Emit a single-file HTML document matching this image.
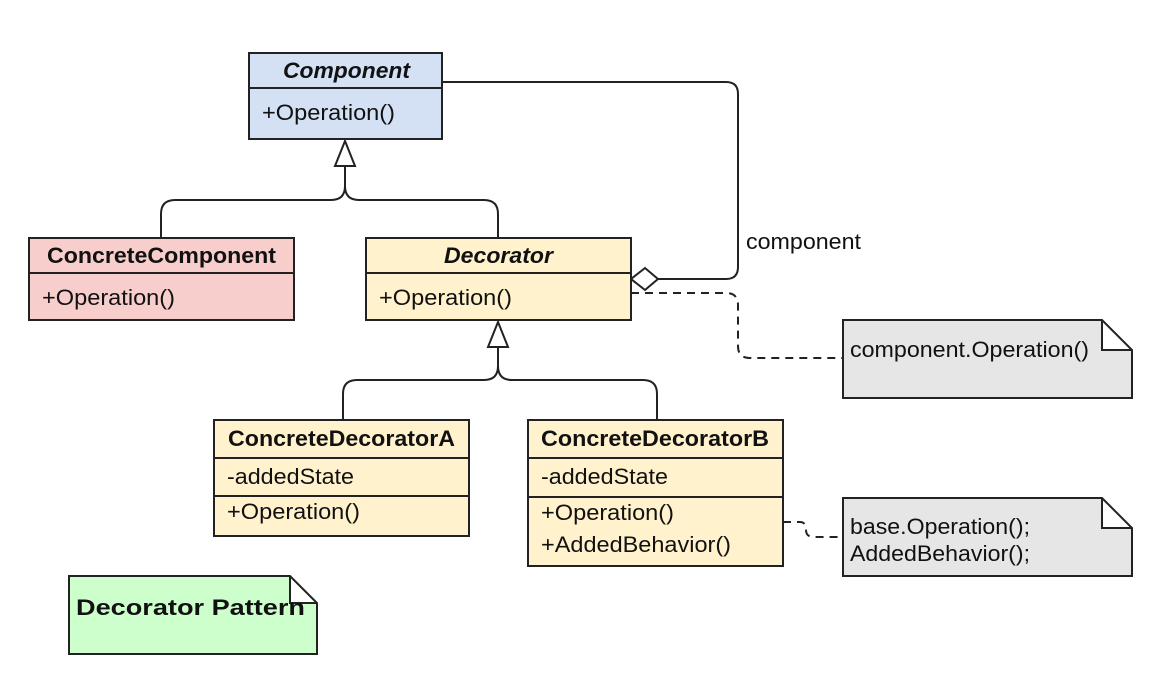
<!DOCTYPE html>
<html><head><style>
body{margin:0;background:#fff;}
svg text{font-family:"Liberation Sans",Arial,sans-serif;font-size:22px;fill:#111;}
</style></head><body>
<svg width="1171" height="686" viewBox="0 0 1171 686" xmlns="http://www.w3.org/2000/svg">
<g stroke="#222" stroke-width="2" fill="none">
<path d="M442 82 H726 Q738 82 738 94 V267 Q738 279 726 279 H658"/>
<path d="M631 279 L645 268 L658 279 L645 290 Z" fill="#fff"/>
<path d="M345 166 V186 Q345 200 331 200 H175 Q161 200 161 214 V238"/>
<path d="M345 186 Q345 200 359 200 H484 Q498 200 498 214 V238"/>
<path d="M345 141 L335 166 H355 Z" fill="#fff"/>
<path d="M498 347 V366 Q498 380 484 380 H357 Q343 380 343 394 V420"/>
<path d="M498 366 Q498 380 512 380 H643 Q657 380 657 394 V420"/>
<path d="M498 322 L488 347 H508 Z" fill="#fff"/>
<path d="M631 293 H726 Q738 293 738 305 V346 Q738 358 750 358 H843" stroke-dasharray="8,6"/>
<path d="M783 522 H800 Q806 522 806 530 Q806 537 814 537 H843" stroke-dasharray="8,6"/>
</g>
<g stroke="#222" stroke-width="2">
<rect x="249" y="53" width="193" height="86" fill="#d4e1f5"/>
<line x1="249" y1="88" x2="442" y2="88"/>
<rect x="29" y="238" width="265" height="82" fill="#f8cecc"/>
<line x1="29" y1="273" x2="294" y2="273"/>
<rect x="366" y="238" width="265" height="82" fill="#fff2cc"/>
<line x1="366" y1="273" x2="631" y2="273"/>
<rect x="214" y="420" width="255" height="116" fill="#fff2cc"/>
<line x1="214" y1="458" x2="469" y2="458"/>
<line x1="214" y1="496" x2="469" y2="496"/>
<rect x="528" y="420" width="255" height="146" fill="#fff2cc"/>
<line x1="528" y1="458" x2="783" y2="458"/>
<line x1="528" y1="497" x2="783" y2="497"/>
<path d="M843 320 H1102 L1132 350 V398 H843 Z M1102 320 V350 H1132" fill="#e6e6e6"/>
<path d="M843 498 H1102 L1132 528 V576 H843 Z M1102 498 V528 H1132" fill="#e6e6e6"/>
<path d="M69 576 H290 L317 603 V654 H69 Z M290 576 V603 H317" fill="#ccffcc"/>
</g>
<text x="283" y="78" textLength="127" lengthAdjust="spacingAndGlyphs" font-style="italic" font-weight="bold">Component</text>
<text x="262" y="120" textLength="133" lengthAdjust="spacingAndGlyphs">+Operation()</text>
<text x="47" y="263" textLength="229" lengthAdjust="spacingAndGlyphs" font-weight="bold">ConcreteComponent</text>
<text x="42" y="305" textLength="133" lengthAdjust="spacingAndGlyphs">+Operation()</text>
<text x="444" y="263" textLength="109" lengthAdjust="spacingAndGlyphs" font-style="italic" font-weight="bold">Decorator</text>
<text x="379" y="305" textLength="133" lengthAdjust="spacingAndGlyphs">+Operation()</text>
<text x="228" y="446" textLength="227" lengthAdjust="spacingAndGlyphs" font-weight="bold">ConcreteDecoratorA</text>
<text x="227" y="484" textLength="127" lengthAdjust="spacingAndGlyphs">-addedState</text>
<text x="227" y="519" textLength="133" lengthAdjust="spacingAndGlyphs">+Operation()</text>
<text x="541" y="446" textLength="228" lengthAdjust="spacingAndGlyphs" font-weight="bold">ConcreteDecoratorB</text>
<text x="541" y="484" textLength="127" lengthAdjust="spacingAndGlyphs">-addedState</text>
<text x="541" y="520" textLength="133" lengthAdjust="spacingAndGlyphs">+Operation()</text>
<text x="541" y="552" textLength="190" lengthAdjust="spacingAndGlyphs">+AddedBehavior()</text>
<text x="746" y="249" textLength="115" lengthAdjust="spacingAndGlyphs">component</text>
<text x="850" y="357" textLength="239" lengthAdjust="spacingAndGlyphs">component.Operation()</text>
<text x="850" y="534" textLength="180" lengthAdjust="spacingAndGlyphs">base.Operation();</text>
<text x="850" y="561" textLength="180" lengthAdjust="spacingAndGlyphs">AddedBehavior();</text>
<text x="76" y="615" textLength="229" lengthAdjust="spacingAndGlyphs" font-weight="bold">Decorator Pattern</text>
</svg>
</body></html>
